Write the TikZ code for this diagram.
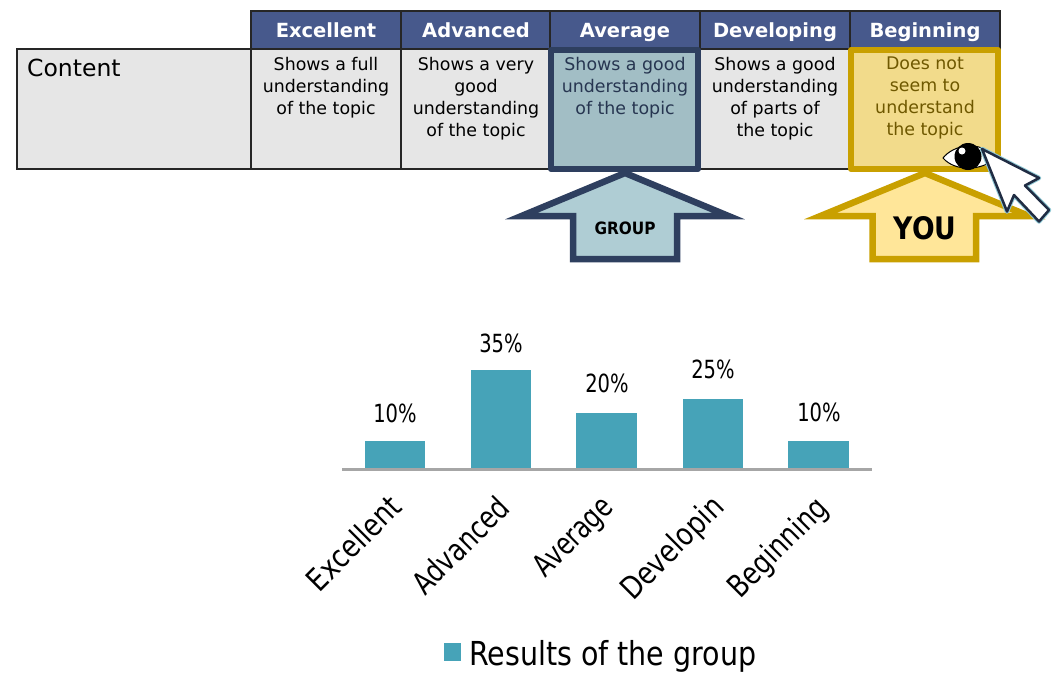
\documentclass[tikz,border=0pt]{standalone}
\usepackage{fontspec}
\setmainfont{DejaVu Sans}
\definecolor{hdr}{HTML}{47598C}
\definecolor{cellg}{HTML}{E6E6E6}
\definecolor{navy}{HTML}{2E3F5F}
\definecolor{gold}{HTML}{C9A000}
\definecolor{grpfill}{HTML}{A2BEC5}
\definecolor{grparrow}{HTML}{AFCDD4}
\definecolor{youcell}{HTML}{F2DB8B}
\definecolor{youarrow}{HTML}{FFE699}
\definecolor{bar}{HTML}{46A3B8}
\definecolor{axisg}{HTML}{A6A6A6}
\tikzset{
  x=1pt,y=-1pt,
  hcell/.style={fill=hdr,draw=black!85,line width=1.6pt,outer sep=0pt,minimum width=150pt,minimum height=38pt,text=white,inner sep=0pt,text height=18pt,text depth=4pt,font=\fontsize{19.5}{22}\selectfont\bfseries,anchor=north west},
  ccell/.style={fill=cellg,draw=black!85,line width=1.5pt,outer sep=0pt,minimum width=150pt,minimum height=120pt,inner sep=0pt,anchor=north west},
  ctext/.style={anchor=north,align=center,font=\fontsize{17.4}{22}\selectfont,inner sep=0pt},
  pct/.style={font=\fontsize{25}{27}\selectfont,inner sep=0pt,xscale=.78},
  axl/.style={font=\fontsize{31}{34}\selectfont,inner sep=0pt,rotate=45,anchor=north east,xscale=.84},
  bigarrow/.style={line width=6.5pt,miter limit=10,line join=miter},
  hilite/.style={anchor=north west,inner sep=0pt,outer sep=0pt,line width=6pt,line join=round,minimum width=147pt,minimum height=119pt},
}
\begin{document}
\begin{tikzpicture}
\useasboundingbox (0,0) rectangle (1052,673);
% table
\node[ccell,minimum width=234pt] (c0) at (17,49) {};
\node[anchor=north west,inner sep=0pt,font=\fontsize{23.5}{26}\selectfont] (content) at (27,59) {Content};
\node[hcell] (h1) at (251,11) {Excellent};
\node[hcell] (h2) at (401,11) {Advanced};
\node[hcell] (h3) at (550,11) {Average};
\node[hcell] (h4) at (700,11) {Developing};
\node[hcell] (h5) at (850,11) {Beginning};
\node[ccell] (c1) at (251,49) {};
\node[ccell] (c2) at (401,49) {};
\node[ccell] (c4) at (700,49) {};
\node[hilite,draw=navy,fill=grpfill] (c3) at (551,50) {};
\node[hilite,draw=gold,fill=youcell] (c5) at (851,50) {};
\node[ctext] at (326,57) {Shows a full\\understanding\\of the topic};
\node[ctext] at (476,57) {Shows a very\\good\\understanding\\of the topic};
\node[ctext,text=navy!85!black] at (625,57) {Shows a good\\understanding\\of the topic};
\node[ctext] at (775,57) {Shows a good\\understanding\\of parts of\\the topic};
\node[ctext,text=gold!55!black] at (925,57) {Does not\\seem to\\understand\\the topic};
% arrows
\draw[bigarrow,draw=navy,fill=grparrow] (625,173) -- (728.5,216) -- (677,216) -- (677,259) -- (573,259) -- (573,216) -- (521.5,216) -- cycle;
\node[font=\fontsize{17}{20}\selectfont\bfseries,xscale=.9,inner sep=0pt] (grp) at (625,228) {GROUP};
\draw[bigarrow,draw=gold,fill=youarrow] (925,173) -- (1029,216) -- (976,216) -- (976,259) -- (872.5,259) -- (872.5,216) -- (820.5,216) -- cycle;
\node[font=\fontsize{31}{34}\selectfont\bfseries,xscale=.86,inner sep=0pt] (you) at (925,228) {YOU};
% eye
\draw[fill=white,line width=1pt,draw=black] (943,158) .. controls (953,145) and (980,139) .. (996,158) .. controls (982,171) and (955,172) .. cycle;
\fill[black] (968,156.5) circle[radius=13.5];
\fill[white] (962,151) circle[radius=3.5];
% cursor
\begin{scope}[line join=round]
\draw[draw=bar!60!white,line width=4.5pt] (982,149) -- (1039,178) -- (1025,185.5) -- (1049,210) -- (1039,221.5) -- (1014,195) -- (1007,211.5) -- cycle;
\draw[draw=navy!70!black,line width=2.5pt,fill=white] (982,149) -- (1039,178) -- (1025,185.5) -- (1049,210) -- (1039,221.5) -- (1014,195) -- (1007,211.5) -- cycle;
\end{scope}
% chart
\foreach \l/\r/\t in {365/425/441,471/531/370,576/637/412.5,683/743/398.5,788/849/441}
  \fill[bar] (\l,\t) rectangle (\r,469);
\coordinate (axl) at (342,469.5);
\coordinate (axr) at (872,469.5);
\draw[axisg,line width=2.2pt] (axl) -- (axr);
\node[pct] (p1) at (395,413) {10\%};
\node[pct] (p2) at (501,343) {35\%};
\node[pct] (p3) at (607,383) {20\%};
\node[pct] (p4) at (713,369) {25\%};
\node[pct] (p5) at (819,412) {10\%};
\node[axl] (l1) at (387,492) {Excellent};
\node[axl,xscale=.80/.84] (l2) at (495,493) {Advanced};
\node[axl,xscale=.77/.84] (l3) at (599,493) {Average};
\node[axl] (l4) at (709,492) {Developin};
\node[axl,xscale=.81/.84] (l5) at (813,493) {Beginning};
\fill[bar] (444,643) rectangle (461,661);
\node[anchor=west,inner sep=0pt,font=\fontsize{33}{36}\selectfont,xscale=.864] (leg) at (469,656) {Results of the group};
\end{tikzpicture}
\end{document}
